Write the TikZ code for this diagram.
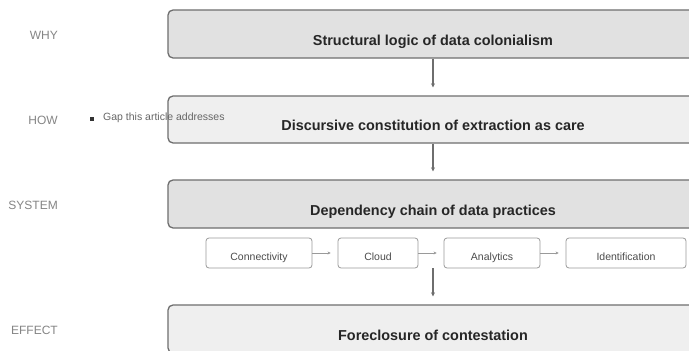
\documentclass[tikz,border=0pt]{standalone}
\usepackage{fontspec}
\setmainfont{Liberation Sans}
\usepackage{xcolor}
\usetikzlibrary{arrows.meta, positioning}

\definecolor{edgegray}{HTML}{6E6E6E}
\definecolor{darkfill}{HTML}{E1E1E1}
\definecolor{lightfill}{HTML}{EFEFEF}
\definecolor{chainedge}{HTML}{9A9A9A}
\definecolor{taggray}{HTML}{858585}

\tikzset{
    layer/.style={draw=edgegray, line width=1.3pt, rounded corners=5pt,
        minimum width=530pt, minimum height=48pt, inner sep=0pt,
        text height=22pt, text depth=0pt,
        font=\fontsize{14.4}{16}\selectfont\bfseries, text=black!85},
    stage/.style={draw=chainedge, line width=0.8pt, rounded corners=3pt, fill=white,
        minimum height=30pt, inner sep=0pt, text height=14pt, text depth=0pt,
        font=\fontsize{10.5}{12}\selectfont, text=black!70},
    tag/.style={anchor=east, inner sep=0pt, text=taggray,
        font=\fontsize{12}{14}\selectfont},
    flow/.style={draw=edgegray, line width=1.2pt, shorten >=8pt,
        -{Stealth[length=4pt, width=4pt]}},
    link/.style={draw=chainedge, line width=0.7pt, shorten >=7pt,
        -{Stealth[length=3pt, width=3pt]}}
}

\begin{document}
\begin{tikzpicture}[x=1pt, y=-1pt]
        \clip (0, 0) rectangle (689, 351);
        \fill[white] (0, 0) rectangle (689, 351);

        % the four layers
        \node[layer, fill=darkfill] (why) at (433, 34) {Structural logic of data colonialism};
        \node[layer, fill=lightfill, minimum height=47pt] (how) at (433, 119.5) {Discursive constitution of extraction as care};
        \node[layer, fill=darkfill] (system) at (433, 204) {Dependency chain of data practices};
        \node[layer, fill=lightfill] (effect) at (433, 329) {Foreclosure of contestation};

        % side labels
        \node[tag] (whytag) at (58, 35) {WHY};
        \node[tag] (howtag) at (58, 120) {HOW};
        \node[tag] (systemtag) at (58, 205) {SYSTEM};
        \node[tag] (effecttag) at (58, 330) {EFFECT};

        \node[fill=black!80, minimum size=4pt, inner sep=0pt] (gapdot) at (92, 119) {};
        \node[anchor=west, inner sep=0pt, text=black!60, font=\fontsize{10.5}{12}\selectfont] (gap) at (103, 118) {Gap this article addresses};

        % dependency chain
        \node[stage, minimum width=106pt] (conn) at (259, 253) {Connectivity};
        \node[stage, minimum width=80pt] (cloud) at (378, 253) {Cloud};
        \node[stage, minimum width=96pt] (analytics) at (492, 253) {Analytics};
        \node[stage, minimum width=120pt] (ident) at (626, 253) {Identification};
        \coordinate (chainout) at (433, 268);

        \draw[link] (conn) to (cloud);
        \draw[link] (cloud) to (analytics);
        \draw[link] (analytics) to (ident);

        \draw[flow] (why) to (how);
        \draw[flow] (how) to (system);
        \draw[flow] (chainout) to (effect);
    \end{tikzpicture}
\end{document}
